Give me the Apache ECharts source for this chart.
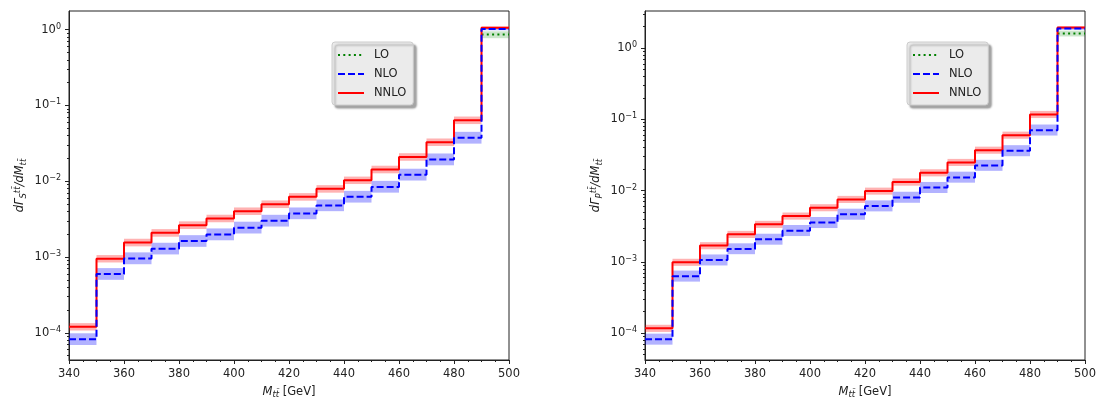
<!DOCTYPE html>
<html>
<head>
<meta charset="utf-8">
<script src="https://cdn.jsdelivr.net/npm/echarts@6/dist/echarts.min.js"></script>
<style>
html,body{margin:0;padding:0;background:#fff;}
#c{width:1097px;height:400px;}
</style>
</head>
<body>
<div id="c"></div>
<script>
// ---- data ----
const binEdges = [340,350,360,370,380,390,400,410,420,430,440,450,460,470,480,490,500];
const xTicks = [340,360,380,400,420,440,460,480,500];
const yMajorTicks = [1e-4,1e-3,1e-2,1e-1,1];

// Left panel (S)
const nnloS   = [1.2e-4,9.5e-4,1.55e-3,2.08e-3,2.63e-3,3.22e-3,4.02e-3,4.97e-3,6.21e-3,7.92e-3,1.03e-2,1.43e-2,2.09e-2,3.27e-2,6.37e-2,1.06];
const nnloSHi = [1.34e-4,1.06e-3,1.74e-3,2.33e-3,2.95e-3,3.61e-3,4.50e-3,5.57e-3,6.96e-3,8.87e-3,1.15e-2,1.60e-2,2.34e-2,3.66e-2,7.13e-2,1.10];
const nnloSLo = [1.07e-4,8.46e-4,1.38e-3,1.85e-3,2.34e-3,2.87e-3,3.58e-3,4.42e-3,5.53e-3,7.05e-3,9.17e-3,1.27e-2,1.86e-2,2.91e-2,5.67e-2,1.02];
const nloS    = [8.2e-5,5.94e-4,9.55e-4,1.28e-3,1.62e-3,1.98e-3,2.43e-3,3.0e-3,3.75e-3,4.78e-3,6.21e-3,8.41e-3,1.22e-2,1.93e-2,3.73e-2,1.02];
const nloSHi  = [9.84e-5,7.13e-4,1.15e-3,1.54e-3,1.94e-3,2.38e-3,2.92e-3,3.6e-3,4.5e-3,5.74e-3,7.45e-3,1.01e-2,1.46e-2,2.32e-2,4.48e-2,1.06];
const nloSLo  = [6.89e-5,4.99e-4,8.02e-4,1.08e-3,1.36e-3,1.66e-3,2.04e-3,2.52e-3,3.15e-3,4.02e-3,5.22e-3,7.06e-3,1.02e-2,1.62e-2,3.13e-2,0.98];
const loS = 0.86, loSHi = 0.95, loSLo = 0.77;

// Right panel (P)
const nnloP   = [1.17e-4,9.87e-4,1.69e-3,2.43e-3,3.36e-3,4.39e-3,5.75e-3,7.52e-3,9.84e-3,1.32e-2,1.78e-2,2.48e-2,3.69e-2,5.99e-2,0.117,1.93];
const nnloPHi = [1.31e-4,1.105e-3,1.89e-3,2.72e-3,3.76e-3,4.92e-3,6.44e-3,8.42e-3,1.10e-2,1.48e-2,1.99e-2,2.78e-2,4.13e-2,6.71e-2,0.131,2.0];
const nnloPLo = [1.04e-4,8.78e-4,1.50e-3,2.16e-3,2.99e-3,3.91e-3,5.12e-3,6.69e-3,8.76e-3,1.17e-2,1.58e-2,2.21e-2,3.28e-2,5.33e-2,0.104,1.86];
const nloP    = [8.2e-5,6.28e-4,1.06e-3,1.52e-3,2.07e-3,2.74e-3,3.55e-3,4.64e-3,6.07e-3,8.02e-3,1.10e-2,1.53e-2,2.25e-2,3.61e-2,7.03e-2,1.87];
const nloPHi  = [9.84e-5,7.54e-4,1.27e-3,1.82e-3,2.48e-3,3.29e-3,4.26e-3,5.57e-3,7.28e-3,9.62e-3,1.32e-2,1.84e-2,2.70e-2,4.33e-2,8.44e-2,1.95];
const nloPLo  = [6.89e-5,5.28e-4,8.9e-4,1.28e-3,1.74e-3,2.30e-3,2.98e-3,3.90e-3,5.10e-3,6.74e-3,9.24e-3,1.29e-2,1.89e-2,3.03e-2,5.91e-2,1.80];
const loP = 1.59, loPHi = 1.75, loPLo = 1.45;

const yRangeS = [4.37e-5, 1.76];
const yRangeP = [4.2e-5, 3.3];

// ---- helpers ----
const FONT = 'DejaVu Sans';
const INK = '#222';
const RED = '#ff0000', BLUE = '#0000ff', GREEN = '#008000';

const yMinorTicks = [];
for (let e = -5; e <= 0; e++) for (let k = 2; k <= 9; k++) yMinorTicks.push(k * Math.pow(10, e));

function stepData(vals) {
  const d = vals.map((v, i) => [binEdges[i], v]);
  d.push([binEdges[binEdges.length - 1], vals[vals.length - 1]]);
  return d;
}
function bandData(lo, hi) {
  return lo.map((l, i) => [binEdges[i], binEdges[i + 1], l, hi[i]]);
}
function bandSeries(name, gi, data, color, opacity) {
  return {
    type: 'custom', name: name, xAxisIndex: gi, yAxisIndex: gi * 2, clip: true, silent: true,
    data: data, encode: {x: [0, 1], y: [2, 3]}, z: 1,
    renderItem: function (params, api) {
      const p0 = api.coord([api.value(0), api.value(3)]);
      const p1 = api.coord([api.value(1), api.value(2)]);
      return {type: 'rect', shape: {x: p0[0], y: p0[1], width: p1[0] - p0[0], height: p1[1] - p0[1]},
              style: {fill: color, opacity: opacity}};
    }
  };
}
function lineSeries(name, gi, data, color, type, z) {
  return {
    type: 'line', name: name, xAxisIndex: gi, yAxisIndex: gi * 2, step: 'end', symbol: 'none',
    data: data, z: z, animation: false,
    lineStyle: {color: color, width: 2, type: type},
    itemStyle: {color: color}
  };
}
function yLabelFmt(v) {
  const e = Math.round(Math.log10(v));
  const s = e < 0 ? '\u2212' + Math.abs(e) : String(e);
  return '10{sup|' + s + '}';
}
const supRich = {
  sup: {fontSize: 8, fontFamily: FONT, color: INK, verticalAlign: 'top', padding: [0, 0, 6, 0]}
};
function yAxes(gi, range, sub) {
  return [
    {
      gridIndex: gi, type: 'log', logBase: 10, min: range[0], max: range[1], position: 'left',
      axisLine: {show: true, lineStyle: {color: INK, width: 1}},
      axisTick: {show: true, length: 4, lineStyle: {color: INK, width: 1}, customValues: yMajorTicks},
      axisLabel: {customValues: yMajorTicks, formatter: yLabelFmt, color: INK, fontSize: 11.5, fontFamily: FONT,
                  margin: 8, rich: supRich},
      splitLine: {show: false},
      name: '{it|d\u0393\u0304}{sub|' + sub + '}{sup|tt\u0304}{it|/dM}{sub|tt\u0304}',
      nameLocation: 'middle', nameGap: 41,
      nameTextStyle: {
        rich: {
          it: {fontSize: 11.5, fontStyle: 'italic', fontFamily: FONT, color: INK},
          sub: {fontSize: 8.5, fontStyle: 'italic', fontFamily: FONT, color: INK, verticalAlign: 'bottom', padding: [5, 0, 0, 0]},
          sup: {fontSize: 8.5, fontStyle: 'italic', fontFamily: FONT, color: INK, verticalAlign: 'top', padding: [0, 0, 6, 0]}
        }
      }
    },
    {
      gridIndex: gi, type: 'log', logBase: 10, min: range[0], max: range[1], position: 'left', offset: 0,
      axisLine: {show: false},
      axisTick: {show: true, length: 2, lineStyle: {color: INK, width: 1}, customValues: yMinorTicks},
      axisLabel: {show: false},
      splitLine: {show: false}
    }
  ];
}
function xAxis(gi) {
  return {
    gridIndex: gi, type: 'value', min: 340, max: 500, interval: 20,
    axisLine: {show: true, onZero: false, lineStyle: {color: INK, width: 1}},
    axisTick: {show: true, length: 4, lineStyle: {color: INK, width: 1}},
    minorTick: {show: true, splitNumber: 4, length: 2, lineStyle: {color: INK, width: 1}},
    axisLabel: {color: INK, fontSize: 11.5, fontFamily: FONT, margin: 8,
                formatter: v => (xTicks.indexOf(v) >= 0 ? String(v) : '')},
    splitLine: {show: false}, minorSplitLine: {show: false},
    name: '{it|M}{sub|tt\u0304} [GeV]', nameLocation: 'middle', nameGap: 25,
    nameTextStyle: {
      fontSize: 11.5, fontFamily: FONT, color: INK,
      rich: {
        it: {fontSize: 11.5, fontStyle: 'italic', fontFamily: FONT, color: INK},
        sub: {fontSize: 8.5, fontStyle: 'italic', fontFamily: FONT, color: INK, verticalAlign: 'bottom', padding: [5, 0, 0, 0]}
      }
    }
  };
}
function legend(left) {
  return {
    orient: 'vertical', left: left, top: 42, itemWidth: 26, itemHeight: 10, itemGap: 7,
    padding: [7, 7, 6, 5],
    backgroundColor: '#ebebeb', borderColor: '#cccccc', borderWidth: 1, borderRadius: 3,
    shadowColor: 'rgba(0,0,0,0.35)', shadowBlur: 2, shadowOffsetX: 3, shadowOffsetY: 3,
    itemStyle: {opacity: 0},
    textStyle: {fontSize: 11.5, fontFamily: FONT, color: INK, padding: [0, 0, 0, 5]},
    data: ['LO', 'NLO', 'NNLO'], selectedMode: false
  };
}

const series = [];
[[0, nnloS, nnloSLo, nnloSHi, nloS, nloSLo, nloSHi, loS, loSLo, loSHi],
 [1, nnloP, nnloPLo, nnloPHi, nloP, nloPLo, nloPHi, loP, loPLo, loPHi]].forEach(function (p) {
  const gi = p[0];
  series.push(bandSeries('NLO band', gi, bandData(p[5], p[6]), BLUE, 0.3));
  series.push(bandSeries('NNLO band', gi, bandData(p[2], p[3]), RED, 0.3));
  series.push(bandSeries('LO band', gi, [[490, 500, p[8], p[9]]], GREEN, 0.2));
  series.push(lineSeries('LO', gi, [[490, p[7]], [500, p[7]]], GREEN, [2, 3.3], 3));
  series.push(lineSeries('NNLO', gi, stepData(p[1]), RED, 'solid', 4));
  series.push(lineSeries('NLO', gi, stepData(p[4]), BLUE, [7, 3], 5));
});

const chart = echarts.init(document.getElementById('c'), null, {renderer: 'canvas'});
chart.setOption({
  animation: false,
  backgroundColor: '#ffffff',
  grid: [
    {left: 69, right: 588, top: 11, bottom: 40, show: true, borderColor: INK, borderWidth: 1,
     backgroundColor: 'transparent', outerBoundsMode: 'none', containLabel: false},
    {left: 645, right: 12, top: 11, bottom: 40, show: true, borderColor: INK, borderWidth: 1,
     backgroundColor: 'transparent', outerBoundsMode: 'none', containLabel: false}
  ],
  xAxis: [xAxis(0), xAxis(1)],
  yAxis: yAxes(0, yRangeS, 'S').concat(yAxes(1, yRangeP, 'P')),
  legend: [legend(332), legend(907)],
  series: series
});
</script>
</body>
</html>
